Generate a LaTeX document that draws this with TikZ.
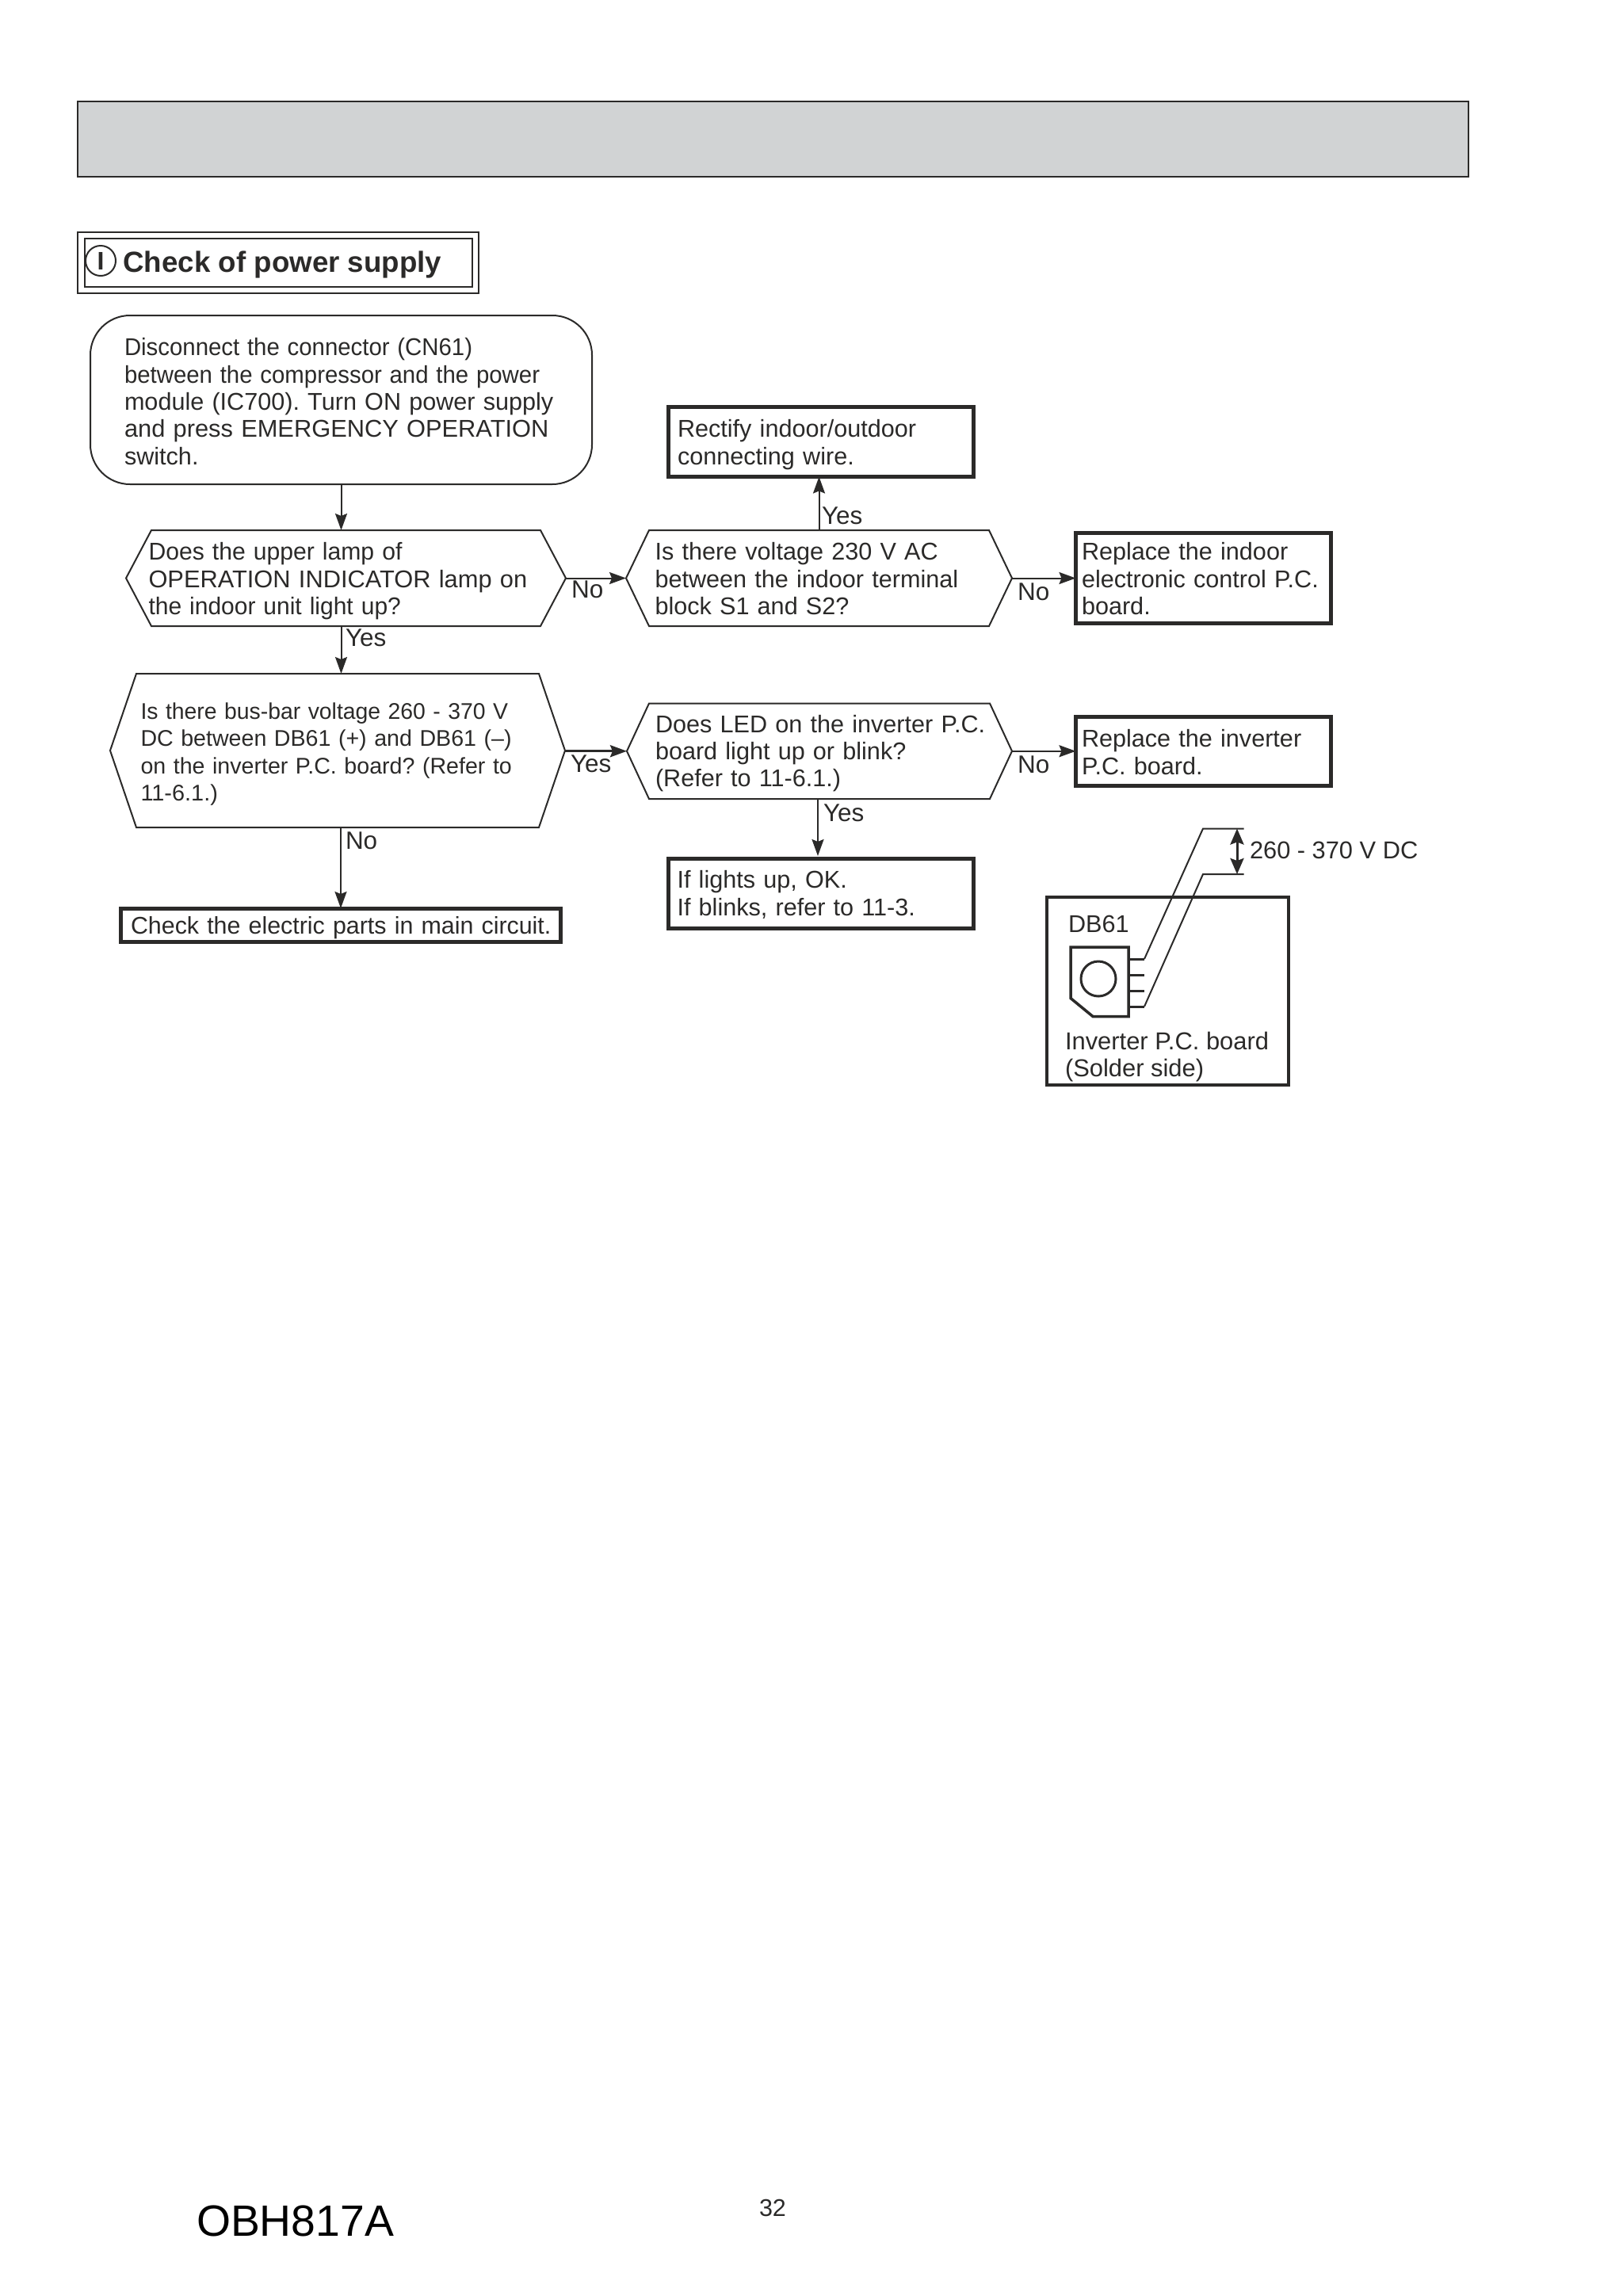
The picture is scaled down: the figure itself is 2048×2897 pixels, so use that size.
\documentclass[tikz,border=0pt]{standalone}
\usepackage{fontspec}
\usepackage{graphicx}
\setmainfont{Liberation Sans}
\usetikzlibrary{arrows.meta,positioning,calc}
\definecolor{ink}{HTML}{2B2A29}
\definecolor{band}{HTML}{D1D3D4}
\newcommand{\Ft}[2]{\mbox{\rule[-0.3\baselineskip]{0pt}{\dimexpr\baselineskip+#1pt\relax}#2}\\}
\newcommand{\Fl}[1]{\mbox{\strut #1}\\}
\newcommand{\Ll}[1]{\mbox{\strut #1}}
\newcommand{\Sq}[2]{\scalebox{#1}[1]{#2}}
\tikzset{
  every node/.style={text=ink,inner sep=0pt,outer sep=0pt},
  body/.style={font=\fontsize{30.6}{34.4}\selectfont\frenchspacing},
  thinline/.style={draw=ink,line width=2pt},
  thick box/.style={draw=ink,line width=5pt},
  arr/.style={draw=ink,line width=2pt,-{Stealth[length=21pt,width=15pt,inset=3pt]}},
  dbl/.style={draw=ink,line width=3pt,{Stealth[length=20pt,width=17pt,inset=3pt]}-{Stealth[length=20pt,width=17pt,inset=3pt]}},
  lbl/.style={font=\fontsize{31.5}{34.4}\selectfont,anchor=base west},
  plain/.style={body,anchor=base west},
  flow/.style={body,align=left,inner sep=0pt},
}
\newcommand{\hexoutline}[2]{%
  \draw[thinline] (#1.west) -- ([xshift=#2pt]#1.north west) -- ([xshift=-#2pt]#1.north east)
    -- (#1.east) -- ([xshift=-#2pt]#1.south east) -- ([xshift=#2pt]#1.south west) -- cycle;}
\begin{document}
\begin{tikzpicture}[x=1pt,y=-1pt]
\useasboundingbox (0,0) rectangle (2048,2897);
\fill[white] (0,0) rectangle (2048,2897);
% header band
\node[thinline,fill=band,minimum width=1755pt,minimum height=95pt,anchor=north west] (band) at (98,128) {};
% title
\node[thinline,minimum width=506pt,minimum height=77pt] (titleouter) at (351,331.5) {};
\node[thinline,minimum width=489pt,minimum height=61pt] (titleinner) at (351.5,331.5) {};
\node[draw=ink,line width=2pt,circle,minimum size=38pt,font=\bfseries\fontsize{32}{32}\selectfont] (ci) at (127,329) {I};
\node[anchor=base west,font=\bfseries\fontsize{36.7}{40}\selectfont] (title) at (155.5,343) {Check of power supply};
% start
\node[flow,thinline,rounded corners=50pt,minimum width=633pt,minimum height=213pt,text width=547pt] (start) at (430.5,504.5)
 {\Ft{12.4}{\Sq{.96}{Disconnect the connector (CN61)}}\Fl{\Sq{.96}{between the compressor and the power}}\Fl{module (IC700). Turn ON power supply}\Fl{\Sq{1.007}{and press EMERGENCY OPERATION}}\Ll{switch.}};
% first row
\node[flow,minimum width=555pt,minimum height=121pt,text width=498pt] (q1) at (436.5,729.5)
 {\Ft{10}{\Sq{.985}{Does the upper lamp of}}\Fl{\Sq{1.007}{OPERATION INDICATOR lamp on}}\Ll{\Sq{.98}{the indoor unit light up?}}};
\hexoutline{q1}{32}
\node[flow,minimum width=487pt,minimum height=121pt,text width=414pt] (q2) at (1033.5,729.5)
 {\Ft{10}{Is there voltage 230 V AC}\Fl{between the indoor terminal}\Ll{block S1 and S2?}};
\hexoutline{q2}{29}
\node[flow,thick box,minimum width=385pt,minimum height=88pt,text width=362pt] (rectify) at (1036,557.5)
 {\Ft{9.6}{Rectify indoor/outdoor}\Ll{connecting wire.}};
\node[flow,thick box,minimum width=322pt,minimum height=112pt,text width=307pt] (rep1) at (1518.5,729.5)
 {\Ft{10}{Replace the indoor}\Fl{electronic control P.C.}\Ll{board.}};
% second row
\node[flow,minimum width=574pt,minimum height=194pt,text width=497pt,font=\fontsize{28.6}{34.5}\selectfont\frenchspacing] (q3) at (426,947)
 {\Ft{10}{\Sq{.992}{Is there bus-bar voltage 260 - 370 V}}\Fl{DC between DB61 (+) and DB61 (–)}\Fl{on the inverter P.C. board? (Refer to}\Ll{\Sq{1.01}{11-6.1.)}}};
\hexoutline{q3}{33}
\node[flow,minimum width=486pt,minimum height=120.5pt,text width=414pt] (q4) at (1034,947.75)
 {\Ft{7.6}{Does LED on the inverter P.C.}\Fl{board light up or blink?}\Ll{(Refer to 11-6.1.)}};
\hexoutline{q4}{28}
\node[flow,thick box,minimum width=322pt,minimum height=87pt,text width=307pt] (rep2) at (1518.5,948)
 {\Ft{10.6}{Replace the inverter}\Ll{P.C. board.}};
\node[flow,thick box,minimum width=385pt,minimum height=88pt,text width=362pt] (result) at (1035.5,1127.5)
 {\Ft{7.6}{If lights up, OK.}\Ll{If blinks, refer to 11-3.}};
\node[flow,thick box,minimum width=555pt,minimum height=42pt,text width=530pt,font=\fontsize{30.4}{34.4}\selectfont\frenchspacing] (check) at (430,1167)
 {\mbox{\rule[-6.5pt]{0pt}{35pt}Check the electric parts in main circuit.}};
% connectors
\draw[arr] (start.south) -- (start.south |- q1.north);
\draw[arr] (q1.east) -- (q2.west);
\draw[arr] (q2.north) -- (q2.north |- rectify.south);
\draw[arr] (q2.east) -- (q2.east -| rep1.west);
\draw[arr] (start.south |- q1.south) -- (start.south |- q3.north);
\draw[arr] (check.north |- q3.south) -- (check.north);
\draw[arr,line width=3pt] (q3.east |- q4.west) -- (q4.west);
\draw[arr] (q4.east) -- (q4.east -| rep2.west);
\draw[arr] (q4.south -| result.north) ++(-3.5,0) -- ++(0,72);
% labels
\node[lbl] (l1) at (436,815) {Yes};
\node[lbl] (l2) at (721,754) {No};
\node[lbl] (l3) at (1037,661) {Yes};
\node[lbl] (l4) at (1284,757) {No};
\node[lbl] (l5) at (720,974) {Yes};
\node[lbl] (l6) at (436,1071) {No};
\node[lbl] (l7) at (1039,1036) {Yes};
\node[lbl] (l8) at (1284,975) {No};
% inverter board
\node[draw=ink,line width=4.5pt,minimum width=305pt,minimum height=237pt] (board) at (1473.5,1250.5) {};
\node[plain] (db) at (1348,1176) {DB61};
\node[flow,anchor=north west,font=\fontsize{30.9}{34.4}\selectfont\frenchspacing] (inv) at (1344,1300) {\Fl{Inverter P.C. board}\Ll{(Solder side)}};
\draw[thinline,line width=3.5pt] (1351,1195) -- (1424,1195) -- (1424,1282.5) -- (1379,1282.5) -- (1351,1259.5) -- cycle;
\node[draw=ink,line width=3pt,circle,minimum size=44pt] (cap) at (1386,1235) {};
\coordinate (p1) at (1444,1210);
\coordinate (p2) at (1444,1230);
\coordinate (p3) at (1444,1250);
\coordinate (p4) at (1444,1270);
\coordinate (a1) at (1518,1045.5);
\coordinate (a2) at (1518,1103);
\coordinate (b1) at (1569.5,1045.5);
\coordinate (b2) at (1569.5,1103);
\draw[thinline,line width=3pt] (1424,1210) -- (p1);
\draw[thinline,line width=3pt] (1424,1230) -- (p2);
\draw[thinline,line width=3pt] (1424,1250) -- (p3);
\draw[thinline,line width=3pt] (1424,1270) -- (p4);
\draw[thinline] (p1) -- (a1) -- (b1);
\draw[thinline] (p4) -- (a2) -- (b2);
\coordinate (c1) at (1561,1045.5);
\coordinate (c2) at (1561,1103);
\draw[dbl] (c1) -- (c2);
\node[plain,font=\fontsize{30.8}{34.4}\selectfont\frenchspacing] (volt) at (1577,1083) {260 - 370 V DC};
% footer
\node[anchor=base west,text=black,font=\fontsize{55.3}{60}\selectfont] (code) at (248,2821.7) {OBH817A};
\node[anchor=base west,font=\fontsize{30.5}{34}\selectfont] (page) at (958,2796.3) {32};
\end{tikzpicture}
\end{document}
